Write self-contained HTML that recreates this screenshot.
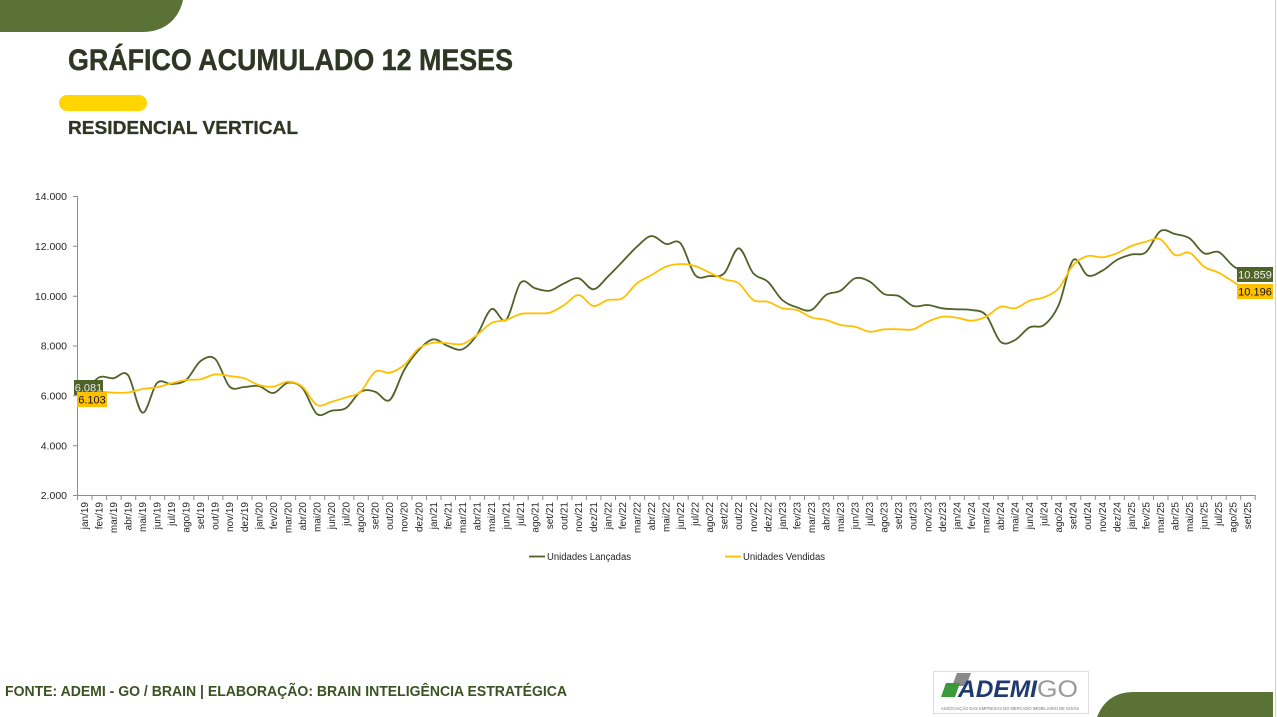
<!DOCTYPE html>
<html><head><meta charset="utf-8"><style>
html,body{margin:0;padding:0;background:#fff;}
svg{display:block;}
text{font-family:"Liberation Sans",Arial,sans-serif;}
</style></head><body>
<svg id="chart" width="1277" height="717" viewBox="0 0 1277 717" xmlns="http://www.w3.org/2000/svg">
<rect width="1277" height="717" fill="#fff"/>
<path d="M0 0 H183 C179 18 166 32 142 32 H0 Z" fill="#5b7236"/>
<path d="M1097 717 C1103 702 1114 692 1134 692 H1273 V717 Z" fill="#5b7236"/>
<line x1="1275.5" y1="0" x2="1275.5" y2="717" stroke="#cfcfcf" stroke-width="1"/>

<text x="68" y="70" font-size="30" font-weight="bold" fill="#2e3723" stroke="#2e3723" stroke-width="0.4" textLength="445" lengthAdjust="spacingAndGlyphs">GRÁFICO ACUMULADO 12 MESES</text>
<rect x="59" y="95" width="88" height="16" rx="8" fill="#ffd500"/>
<text x="68" y="134" font-size="18.5" font-weight="bold" fill="#2e3723" stroke="#2e3723" stroke-width="0.3" textLength="230" lengthAdjust="spacingAndGlyphs">RESIDENCIAL VERTICAL</text>

<g stroke="#8c8c8c" stroke-width="1" fill="none">
<line x1="77.5" y1="196" x2="77.5" y2="495.5"/>
<line x1="77" y1="495.5" x2="1255" y2="495.5"/>
<path d="M73 196.5H77M73 246.3H77M73 296.2H77M73 346H77M73 395.8H77M73 445.7H77M73 495.5H77"/>
<path d="M77.5 495V500M92.0 495V500M106.6 495V500M121.1 495V500M135.7 495V500M150.2 495V500M164.7 495V500M179.3 495V500M193.8 495V500M208.4 495V500M222.9 495V500M237.4 495V500M252.0 495V500M266.5 495V500M281.1 495V500M295.6 495V500M310.1 495V500M324.7 495V500M339.2 495V500M353.8 495V500M368.3 495V500M382.8 495V500M397.4 495V500M411.9 495V500M426.5 495V500M441.0 495V500M455.5 495V500M470.1 495V500M484.6 495V500M499.2 495V500M513.7 495V500M528.2 495V500M542.8 495V500M557.3 495V500M571.9 495V500M586.4 495V500M600.9 495V500M615.5 495V500M630.0 495V500M644.6 495V500M659.1 495V500M673.6 495V500M688.2 495V500M702.7 495V500M717.3 495V500M731.8 495V500M746.3 495V500M760.9 495V500M775.4 495V500M790.0 495V500M804.5 495V500M819.0 495V500M833.6 495V500M848.1 495V500M862.7 495V500M877.2 495V500M891.7 495V500M906.3 495V500M920.8 495V500M935.4 495V500M949.9 495V500M964.4 495V500M979.0 495V500M993.5 495V500M1008.1 495V500M1022.6 495V500M1037.1 495V500M1051.7 495V500M1066.2 495V500M1080.8 495V500M1095.3 495V500M1109.8 495V500M1124.4 495V500M1138.9 495V500M1153.5 495V500M1168.0 495V500M1182.5 495V500M1197.1 495V500M1211.6 495V500M1226.2 495V500M1240.7 495V500M1255.2 495V500"/>
</g>

<g font-size="10.5" fill="#262626" text-anchor="end">
<text x="67" y="200">14.000</text>
<text x="67" y="250">12.000</text>
<text x="67" y="300">10.000</text>
<text x="67" y="349.5">8.000</text>
<text x="67" y="399.5">6.000</text>
<text x="67" y="449.5">4.000</text>
<text x="67" y="499">2.000</text>
</g>

<g font-size="10" fill="#262626" text-anchor="end">
<text transform="translate(87.8,502) rotate(-90)">jan/19</text>
<text transform="translate(102.3,502) rotate(-90)">fev/19</text>
<text transform="translate(116.9,502) rotate(-90)">mar/19</text>
<text transform="translate(131.4,502) rotate(-90)">abr/19</text>
<text transform="translate(146.0,502) rotate(-90)">mai/19</text>
<text transform="translate(160.5,502) rotate(-90)">jun/19</text>
<text transform="translate(175.0,502) rotate(-90)">jul/19</text>
<text transform="translate(189.6,502) rotate(-90)">ago/19</text>
<text transform="translate(204.1,502) rotate(-90)">set/19</text>
<text transform="translate(218.7,502) rotate(-90)">out/19</text>
<text transform="translate(233.2,502) rotate(-90)">nov/19</text>
<text transform="translate(247.8,502) rotate(-90)">dez/19</text>
<text transform="translate(262.3,502) rotate(-90)">jan/20</text>
<text transform="translate(276.8,502) rotate(-90)">fev/20</text>
<text transform="translate(291.4,502) rotate(-90)">mar/20</text>
<text transform="translate(305.9,502) rotate(-90)">abr/20</text>
<text transform="translate(320.5,502) rotate(-90)">mai/20</text>
<text transform="translate(335.0,502) rotate(-90)">jun/20</text>
<text transform="translate(349.6,502) rotate(-90)">jul/20</text>
<text transform="translate(364.1,502) rotate(-90)">ago/20</text>
<text transform="translate(378.6,502) rotate(-90)">set/20</text>
<text transform="translate(393.2,502) rotate(-90)">out/20</text>
<text transform="translate(407.7,502) rotate(-90)">nov/20</text>
<text transform="translate(422.3,502) rotate(-90)">dez/20</text>
<text transform="translate(436.8,502) rotate(-90)">jan/21</text>
<text transform="translate(451.4,502) rotate(-90)">fev/21</text>
<text transform="translate(465.9,502) rotate(-90)">mar/21</text>
<text transform="translate(480.4,502) rotate(-90)">abr/21</text>
<text transform="translate(495.0,502) rotate(-90)">mai/21</text>
<text transform="translate(509.5,502) rotate(-90)">jun/21</text>
<text transform="translate(524.1,502) rotate(-90)">jul/21</text>
<text transform="translate(538.6,502) rotate(-90)">ago/21</text>
<text transform="translate(553.2,502) rotate(-90)">set/21</text>
<text transform="translate(567.7,502) rotate(-90)">out/21</text>
<text transform="translate(582.2,502) rotate(-90)">nov/21</text>
<text transform="translate(596.8,502) rotate(-90)">dez/21</text>
<text transform="translate(611.3,502) rotate(-90)">jan/22</text>
<text transform="translate(625.9,502) rotate(-90)">fev/22</text>
<text transform="translate(640.4,502) rotate(-90)">mar/22</text>
<text transform="translate(655.0,502) rotate(-90)">abr/22</text>
<text transform="translate(669.5,502) rotate(-90)">mai/22</text>
<text transform="translate(684.0,502) rotate(-90)">jun/22</text>
<text transform="translate(698.6,502) rotate(-90)">jul/22</text>
<text transform="translate(713.1,502) rotate(-90)">ago/22</text>
<text transform="translate(727.7,502) rotate(-90)">set/22</text>
<text transform="translate(742.2,502) rotate(-90)">out/22</text>
<text transform="translate(756.8,502) rotate(-90)">nov/22</text>
<text transform="translate(771.3,502) rotate(-90)">dez/22</text>
<text transform="translate(785.8,502) rotate(-90)">jan/23</text>
<text transform="translate(800.4,502) rotate(-90)">fev/23</text>
<text transform="translate(814.9,502) rotate(-90)">mar/23</text>
<text transform="translate(829.5,502) rotate(-90)">abr/23</text>
<text transform="translate(844.0,502) rotate(-90)">mai/23</text>
<text transform="translate(858.6,502) rotate(-90)">jun/23</text>
<text transform="translate(873.1,502) rotate(-90)">jul/23</text>
<text transform="translate(887.6,502) rotate(-90)">ago/23</text>
<text transform="translate(902.2,502) rotate(-90)">set/23</text>
<text transform="translate(916.7,502) rotate(-90)">out/23</text>
<text transform="translate(931.3,502) rotate(-90)">nov/23</text>
<text transform="translate(945.8,502) rotate(-90)">dez/23</text>
<text transform="translate(960.4,502) rotate(-90)">jan/24</text>
<text transform="translate(974.9,502) rotate(-90)">fev/24</text>
<text transform="translate(989.4,502) rotate(-90)">mar/24</text>
<text transform="translate(1004.0,502) rotate(-90)">abr/24</text>
<text transform="translate(1018.5,502) rotate(-90)">mai/24</text>
<text transform="translate(1033.1,502) rotate(-90)">jun/24</text>
<text transform="translate(1047.6,502) rotate(-90)">jul/24</text>
<text transform="translate(1062.2,502) rotate(-90)">ago/24</text>
<text transform="translate(1076.7,502) rotate(-90)">set/24</text>
<text transform="translate(1091.2,502) rotate(-90)">out/24</text>
<text transform="translate(1105.8,502) rotate(-90)">nov/24</text>
<text transform="translate(1120.3,502) rotate(-90)">dez/24</text>
<text transform="translate(1134.9,502) rotate(-90)">jan/25</text>
<text transform="translate(1149.4,502) rotate(-90)">fev/25</text>
<text transform="translate(1164.0,502) rotate(-90)">mar/25</text>
<text transform="translate(1178.5,502) rotate(-90)">abr/25</text>
<text transform="translate(1193.0,502) rotate(-90)">mai/25</text>
<text transform="translate(1207.6,502) rotate(-90)">jun/25</text>
<text transform="translate(1222.1,502) rotate(-90)">jul/25</text>
<text transform="translate(1236.7,502) rotate(-90)">ago/25</text>
<text transform="translate(1251.2,502) rotate(-90)">set/25</text>
</g>

<polyline class="smooth" fill="none" stroke="#4f6228" stroke-width="1.8" stroke-linejoin="round" stroke-linecap="round" points="84.3,393.3 98.8,377.5 113.4,378.3 127.9,375 142.5,412.7 157.0,383 171.5,384 186.1,380 200.6,361 215.2,359 229.7,386.7 244.3,387 258.8,386 273.3,393 287.9,382.7 302.4,388 317.0,414 331.5,410.7 346.1,408 360.6,391.7 375.1,391.7 389.7,400 404.2,370 418.8,350 433.3,339.3 447.9,346 462.4,349.3 476.9,335 491.5,309 506.0,320 520.6,282.7 535.1,288.3 549.7,290.7 564.2,283.3 578.7,278.3 593.3,289.3 607.8,276.7 622.4,261.7 636.9,246.7 651.5,236 666.0,244 680.5,243.3 695.1,275 709.6,276 724.2,273.3 738.7,248.3 753.3,273.3 767.8,281.7 782.3,300 796.9,307.3 811.4,310 826.0,295 840.5,290.7 855.1,278.3 869.6,281.5 884.1,294 898.7,296 913.2,306 927.8,305 942.3,308.3 956.9,309.3 971.4,310 985.9,315 1000.5,341.7 1015.0,340 1029.6,327.3 1044.1,325 1058.7,305 1073.2,260 1087.7,275.5 1102.3,270.7 1116.8,260 1131.4,254.5 1145.9,252.2 1160.5,231 1175.0,234 1189.5,238.3 1204.1,253.3 1218.6,252 1233.2,266 1247.7,274.2"/>
<polyline class="smooth" fill="none" stroke="#ffc000" stroke-width="1.8" stroke-linejoin="round" stroke-linecap="round" points="84.3,392.8 98.8,391.7 113.4,392.7 127.9,392.5 142.5,389 157.0,387.3 171.5,383.3 186.1,380 200.6,379.3 215.2,374.3 229.7,376 244.3,378.3 258.8,385 273.3,386.7 287.9,381.7 302.4,386.7 317.0,405 331.5,401.7 346.1,397.3 360.6,391.7 375.1,371.7 389.7,372.7 404.2,365 418.8,348.3 433.3,342.7 447.9,343.3 462.4,344 476.9,335 491.5,323 506.0,320 520.6,314 535.1,313.3 549.7,312.7 564.2,305 578.7,295 593.3,306 607.8,300 622.4,298.3 636.9,283.3 651.5,275 666.0,266.7 680.5,264 695.1,266 709.6,272.7 724.2,279.3 738.7,283.3 753.3,300 767.8,301.7 782.3,308.3 796.9,310 811.4,317.3 826.0,320 840.5,325 855.1,326.7 869.6,331.7 884.1,329.3 898.7,329.3 913.2,329.3 927.8,321.7 942.3,316.7 956.9,317.7 971.4,320.7 985.9,316.7 1000.5,306.7 1015.0,308.3 1029.6,300.7 1044.1,297.3 1058.7,288.3 1073.2,265 1087.7,256 1102.3,257.3 1116.8,253.3 1131.4,246 1145.9,241.7 1160.5,239.3 1175.0,255 1189.5,252.7 1204.1,266.7 1218.6,272.7 1233.2,281.7 1247.7,290.8"/>

<rect x="74" y="380" width="29" height="15" fill="#4f6228"/>
<text x="88.5" y="391.5" font-size="11" fill="#e6e6e6" text-anchor="middle">6.081</text>
<rect x="77" y="392" width="30" height="15" fill="#ffc000"/>
<text x="92" y="403.5" font-size="11" fill="#111" text-anchor="middle">6.103</text>
<rect x="1237" y="267" width="36" height="15" fill="#4f6228"/>
<text x="1255" y="278.5" font-size="11" fill="#f2f2f2" text-anchor="middle">10.859</text>
<rect x="1237" y="284" width="36" height="15" fill="#ffc000"/>
<text x="1255" y="295.5" font-size="11" fill="#111" text-anchor="middle">10.196</text>

<line x1="529" y1="556.5" x2="545" y2="556.5" stroke="#4f6228" stroke-width="1.8"/>
<text x="547" y="560" font-size="10" fill="#262626" textLength="84" lengthAdjust="spacingAndGlyphs">Unidades Lançadas</text>
<line x1="725" y1="556.5" x2="741" y2="556.5" stroke="#ffc000" stroke-width="1.8"/>
<text x="743" y="560" font-size="10" fill="#262626" textLength="82" lengthAdjust="spacingAndGlyphs">Unidades Vendidas</text>

<text x="5" y="696" font-size="14.5" font-weight="bold" fill="#3b5323" textLength="562" lengthAdjust="spacingAndGlyphs">FONTE: ADEMI - GO / BRAIN  | ELABORAÇÃO: BRAIN INTELIGÊNCIA ESTRATÉGICA</text>

<rect x="933.5" y="671.5" width="155" height="42" fill="#fff" stroke="#dedede" stroke-width="1"/>
<polygon points="957,673 971,673 966,686 952,686" fill="#8a8a8a"/>
<polygon points="946,683 960,683 955,697 941,697" fill="#3a9a3a"/>
<text x="958" y="697" font-size="24" font-weight="bold" font-style="italic" fill="#1f3a6e" textLength="79" lengthAdjust="spacingAndGlyphs">ADEMI</text>
<text x="1037" y="697" font-size="24" fill="#9a9a9a" textLength="41" lengthAdjust="spacingAndGlyphs">GO</text>
<text x="941" y="710" font-size="4.5" fill="#777" textLength="138" lengthAdjust="spacingAndGlyphs">ASSOCIAÇÃO DAS EMPRESAS DO MERCADO IMOBILIÁRIO DE GOIÁS</text>
</svg>
<script>
(function(){
  var NS="http://www.w3.org/2000/svg";
  var lines=document.querySelectorAll("polyline.smooth");
  for(var k=0;k<lines.length;k++){
    var pl=lines[k];
    var raw=pl.getAttribute("points").trim().split(/\s+/);
    var p=raw.map(function(s){var a=s.split(",");return [parseFloat(a[0]),parseFloat(a[1])];});
    var d="M"+p[0][0]+" "+p[0][1];
    var t=1/6;
    for(var i=0;i<p.length-1;i++){
      var p0=p[i-1]||p[i], p1=p[i], p2=p[i+1], p3=p[i+2]||p[i+1];
      var c1x=p1[0]+(p2[0]-p0[0])*t, c1y=p1[1]+(p2[1]-p0[1])*t;
      var c2x=p2[0]-(p3[0]-p1[0])*t, c2y=p2[1]-(p3[1]-p1[1])*t;
      d+=" C"+c1x.toFixed(2)+" "+c1y.toFixed(2)+" "+c2x.toFixed(2)+" "+c2y.toFixed(2)+" "+p2[0]+" "+p2[1];
    }
    var path=document.createElementNS(NS,"path");
    path.setAttribute("d",d);
    ["fill","stroke","stroke-width","stroke-linejoin","stroke-linecap"].forEach(function(a){path.setAttribute(a,pl.getAttribute(a));});
    pl.parentNode.replaceChild(path,pl);
  }
})();
</script>
</body></html>
